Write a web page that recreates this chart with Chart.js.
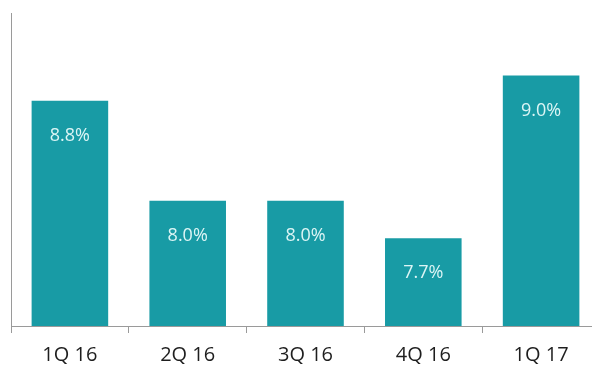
<!DOCTYPE html>
<html>
<head>
<meta charset="utf-8">
<script src="https://cdn.jsdelivr.net/npm/chart.js@4"></script>
<style>
  html, body { margin: 0; padding: 0; background: #fff; overflow: hidden; }
  #wrap { width: 600px; height: 366px; }
</style>
</head>
<body>
<div id="wrap"><canvas id="growthChart" width="600" height="366"></canvas></div>
<script>
const quarters = ["1Q 16", "2Q 16", "3Q 16", "4Q 16", "1Q 17"];
const growth = [8.8, 8.0, 8.0, 7.7, 9.0];

// writes the value inside each bar, a little below its top
const barLabels = {
  id: "barLabels",
  afterDatasetsDraw(chart) {
    const ctx = chart.ctx;
    const meta = chart.getDatasetMeta(0);
    ctx.save();
    ctx.fillStyle = "#dcf5f5";
    ctx.font = "18px 'Open Sans', sans-serif";
    ctx.textAlign = "center";
    ctx.textBaseline = "middle";
    meta.data.forEach((bar, i) => {
      ctx.fillText(growth[i].toFixed(1) + "%", bar.x, bar.y + 35);
    });
    ctx.restore();
  }
};

new Chart(document.getElementById("growthChart"), {
  type: "bar",
  data: {
    labels: quarters,
    datasets: [{
      data: growth,
      backgroundColor: "#189ba5",
      barPercentage: 0.65,
      categoryPercentage: 1
    }]
  },
  options: {
    responsive: false,
    animation: false,
    layout: { padding: { left: 11, top: 13, right: 0, bottom: 0 } },
    plugins: { legend: { display: false }, tooltip: { enabled: false } },
    scales: {
      x: {
        grid: { drawOnChartArea: false, drawTicks: true, tickLength: 7, color: "#9a9a9a" },
        border: { display: true, color: "#9a9a9a", width: 1 },
        ticks: {
          color: "#1e1e1e",
          padding: 12,
          font: { family: "'Open Sans', sans-serif", size: 20, lineHeight: 1 }
        },
        // keep the label strip tight under the baseline
        afterFit(scale) { scale.height = 40; }
      },
      y: {
        min: 7,
        max: 9.5,
        grid: { display: false, drawTicks: false },
        border: { display: true, color: "#9a9a9a", width: 1 },
        ticks: { display: false }
      }
    }
  },
  plugins: [barLabels]
});
</script>
</body>
</html>
